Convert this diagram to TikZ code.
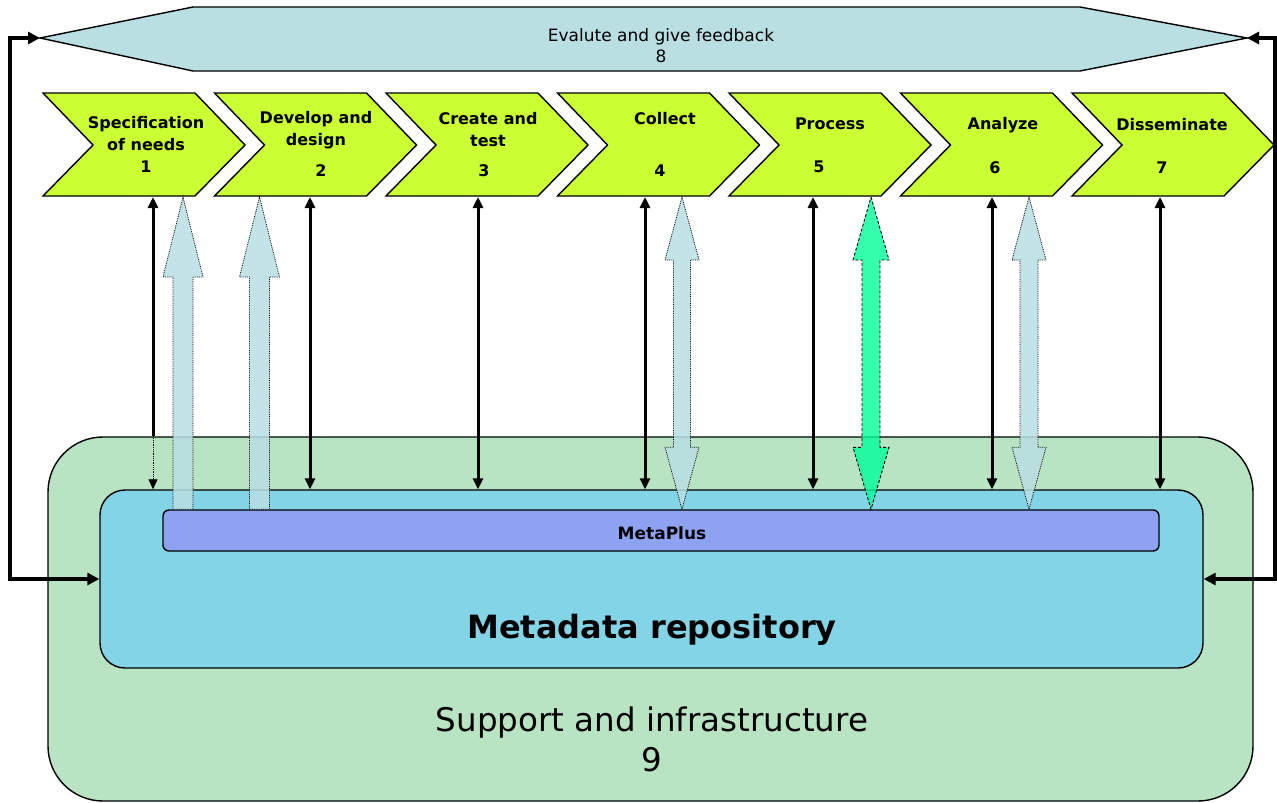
\documentclass[tikz,border=0pt]{standalone}
\usepackage{fontspec}
\setmainfont{DejaVu Sans}
\usetikzlibrary{arrows.meta,calc}
\definecolor{chevfill}{HTML}{CCFF33}
\definecolor{evalfill}{HTML}{B9DFE3}
\definecolor{supportfill}{HTML}{B8E4C3}
\definecolor{repofill}{HTML}{82D4E6}
\definecolor{metafill}{HTML}{8DA3F2}
\definecolor{flowblue}{HTML}{B9DFE3}
\definecolor{flowgreen}{HTML}{00FF99}

% block arrow with a single head at the top
\newcommand\singleflow[6]{%
  \path[#1] let \p1=(#2), \p2=(#3) in
    (\x1-#4,\y2) -- (\x1-#4,\y1-#6) -- (\x1-#5,\y1-#6) -- (\x1,\y1)
    -- (\x1+#5,\y1-#6) -- (\x1+#4,\y1-#6) -- (\x1+#4,\y2) -- cycle;}
% block arrow with heads at both ends
\newcommand\doubleflow[7]{%
  \path[#1] let \p1=(#2), \p2=(#3) in
    (\x1,\y1) -- (\x1+#5,\y1-#6) -- (\x1+#4,\y1-#6) -- (\x1+#4,\y2+#7)
    -- (\x1+#5,\y2+#7) -- (\x1,\y2) -- (\x1-#5,\y2+#7) -- (\x1-#4,\y2+#7)
    -- (\x1-#4,\y1-#6) -- (\x1-#5,\y1-#6) -- cycle;}

\begin{document}
\begin{tikzpicture}[x=1pt,y=-1pt,
  chevron/.style={draw=black,line width=1.4pt,fill=chevfill,line join=miter},
  chevtext/.style={font=\bfseries\fontsize{16}{22}\selectfont,align=center,inner sep=0pt},
  link/.style={line width=3pt,{Triangle[width=10pt,length=11pt]}-{Triangle[width=10pt,length=11pt]}},
  feedback/.style={line width=4pt,{Triangle[width=12pt,length=12pt]}-{Triangle[width=12pt,length=12pt]}},
  blueflow/.style={fill=flowblue,fill opacity=0.85,draw=black,line width=0.8pt,densely dotted},
  greenflow/.style={fill=flowgreen,fill opacity=0.8,draw=black,line width=0.9pt,densely dashed},
  box/.style={draw=black,line width=1.4pt,inner sep=0pt}]
\useasboundingbox (0,0) rectangle (1277,803);

% support layer, repository and MetaPlus
\node[box,fill=supportfill,rounded corners=55pt,minimum width=1205pt,minimum height=364pt] (support) at (650.5,619) {};
\node[box,fill=repofill,rounded corners=25pt,minimum width=1103pt,minimum height=178pt] (repo) at (651.5,579) {};
\node[box,fill=metafill,rounded corners=6pt,minimum width=996pt,minimum height=41pt] (meta) at (661,530.5) {};
\node[font=\bfseries\fontsize{17}{20}\selectfont] (metalabel) at (662,533) {MetaPlus};
\node[font=\bfseries\fontsize{32}{38}\selectfont] (repolabel) at (652,630) {Metadata repository};
\node[font=\fontsize{32.5}{40}\selectfont,align=center] (supportlabel) at (652,739) {Support and infrastructure\\9};

% evaluation band
\coordinate (evL) at (40,38);
\coordinate (evR) at (1247,38);
\draw[fill=evalfill,line width=1.4pt] (evL) -- (193,7) -- (1080,7) -- (evR) -- (1080,71) -- (193,71) -- cycle;
\node[font=\fontsize{17}{21}\selectfont,align=center,inner sep=0pt] (evlabel) at (661,46) {Evalute and give feedback\\8};

% process phases
\foreach \i in {1,...,7}{
  \pgfmathsetmacro\l{43+(\i-1)*171.5}
  \draw[chevron] (\l,93) -- ++(152,0) -- ++(50,52) -- ++(-50,51) -- ++(-152,0) -- ++(50,-51) -- cycle;
}
\node[chevtext] (t1) at (146,134) {Specification\\of needs};
\node[chevtext] (n1) at (146,167) {1};
\node[chevtext] (t2) at (316,130) {Develop and\\design};
\node[chevtext] (n2) at (321,171) {2};
\node[chevtext] (t3) at (488,130) {Create and\\test};
\node[chevtext] (n3) at (484,171) {3};
\node[chevtext] (t4) at (665,119) {Collect};
\node[chevtext] (n4) at (660,171) {4};
\node[chevtext] (t5) at (830,124) {Process};
\node[chevtext] (n5) at (819,167) {5};
\node[chevtext] (t6) at (1003,125) {Analyze};
\node[chevtext] (n6) at (995,168) {6};
\node[chevtext] (t7) at (1172,125) {Disseminate};
\node[chevtext] (n7) at (1162,168) {7};

% attachment points under the phases
\foreach \n/\x in {b1/153,b2/310,b3/478,b4/645,b5/813,b6/992,b7/1160,
                   f1/183,f2/259.5,f4/682,f5/871,f6/1029}{
  \coordinate (\n) at (\x,197);
}

% metadata flows between phases and MetaPlus
\singleflow{blueflow}{f1}{f1 |- meta.north}{10pt}{20pt}{80pt}
\singleflow{blueflow}{f2}{f2 |- meta.north}{10pt}{20pt}{80pt}
\doubleflow{blueflow}{f4}{f4 |- meta.north}{8.5pt}{17pt}{63pt}{62pt}
\doubleflow{greenflow}{f5}{f5 |- meta.north}{9pt}{18pt}{63pt}{62pt}
\doubleflow{blueflow}{f6}{f6 |- meta.north}{9pt}{17pt}{63pt}{62pt}

% links between phases and the repository
\draw[line width=3pt,-{Triangle[width=10pt,length=11pt]}] (b1 |- support.north) -- (b1);
\draw[line width=0.8pt,densely dotted,-{Triangle[width=9pt,length=10pt]}] (b1 |- support.north) -- (b1 |- repo.north);
\foreach \n in {b2,b3,b4,b5,b6,b7}{
  \draw[link] (\n) -- (\n |- repo.north);
}

% feedback loop
\coordinate (lc) at (10,38);
\coordinate (rc) at (1275,38);
\draw[feedback] (evL) -- (lc) |- (repo.west);
\draw[feedback] (evR) -- (rc) |- (repo.east);
\end{tikzpicture}
\end{document}
